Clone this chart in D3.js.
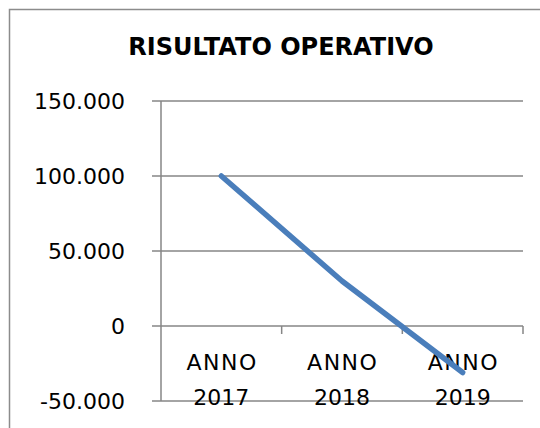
<!DOCTYPE html>
<html>
<head>
<meta charset="utf-8">
<script src="https://cdn.jsdelivr.net/npm/d3@7"></script>
<style>
    html, body { margin: 0; padding: 0; background: #fff; }
    svg { display: block; }
</style>
</head>
<body>
<svg id="chart" width="540" height="428"></svg>
<script>
const title      = 'RISULTATO OPERATIVO';
const categories = [['ANNO', '2017'], ['ANNO', '2018'], ['ANNO', '2019']];
const values     = [100000, 30000, -31000];
const yTicks     = [-50000, 0, 50000, 100000, 150000];

const FONT = '"DejaVu Sans", "Century Gothic", sans-serif';
const GRID = '#868686';

const svg = d3.select('#chart');

// chart border (only top and left edges fall inside the window)
svg.append('path')
    .attr('d', 'M9.5,428V9.5H540')
    .attr('fill', 'none')
    .attr('stroke', '#8c8c8c')
    .attr('stroke-width', 1.5);

svg.append('text')
    .attr('x', 281)
    .attr('y', 55)
    .attr('text-anchor', 'middle')
    .attr('font-family', FONT)
    .attr('font-weight', 'bold')
    .attr('font-size', 24)
    .attr('fill', '#000')
    .text(title);

const keys = categories.map(c => c.join(' '));
const x = d3.scaleBand().domain(keys).range([161, 523]).padding(0);
const y = d3.scaleLinear().domain([-50000, 150000]).range([401, 101]);

const loc = d3.formatLocale({ decimal: ',', thousands: '.', grouping: [3], currency: ['€', ''], minus: '-' });
const fmt = loc.format(',');

// horizontal gridlines + y labels
const g = svg.append('g');
g.selectAll('.grid')
    .data(yTicks)
    .join('line')
    .attr('x1', 152).attr('x2', 523)
    .attr('y1', d => y(d)).attr('y2', d => y(d))
    .attr('stroke', GRID)
    .attr('stroke-width', 1.5);

g.selectAll('.ylab')
    .data(yTicks)
    .join('text')
    .attr('x', 125)
    .attr('y', d => y(d))
    .attr('dy', '0.35em')
    .attr('text-anchor', 'end')
    .attr('font-family', FONT)
    .attr('font-size', 22)
    .attr('fill', '#000')
    .text(d => fmt(d));

// y axis line
g.append('line')
    .attr('x1', 161).attr('x2', 161)
    .attr('y1', y(150000)).attr('y2', y(-50000))
    .attr('stroke', GRID)
    .attr('stroke-width', 1.5);

// category tick marks on the zero line
const bounds = keys.map(k => x(k) + x.bandwidth());
g.selectAll('.xtick')
    .data(bounds)
    .join('line')
    .attr('x1', d => d).attr('x2', d => d)
    .attr('y1', y(0)).attr('y2', y(0) + 8)
    .attr('stroke', GRID)
    .attr('stroke-width', 1.5);

// two-line category labels
const lab = g.selectAll('.xlab')
    .data(categories)
    .join('text')
    .attr('text-anchor', 'middle')
    .attr('font-family', FONT)
    .attr('font-size', 22)
    .attr('fill', '#000');
lab.selectAll('tspan')
    .data(d => d.map((t, i) => ({ t, i, cx: x(d.join(' ')) + x.bandwidth() / 2 })))
    .join('tspan')
    .attr('x', d => d.i === 0 ? d.cx + 0.75 : d.cx)
    .attr('y', d => 370 + d.i * 35)
    .attr('letter-spacing', d => d.i === 0 ? 1.5 : 0)
    .text(d => d.t);

// the series line
const line = d3.line()
    .x((d, i) => x(keys[i]) + x.bandwidth() / 2)
    .y(d => y(d));

g.append('path')
    .datum(values)
    .attr('d', line)
    .attr('fill', 'none')
    .attr('stroke', '#4a7ebb')
    .attr('stroke-width', 5.5)
    .attr('stroke-linecap', 'round')
    .attr('stroke-linejoin', 'round');
</script>
</body>
</html>
